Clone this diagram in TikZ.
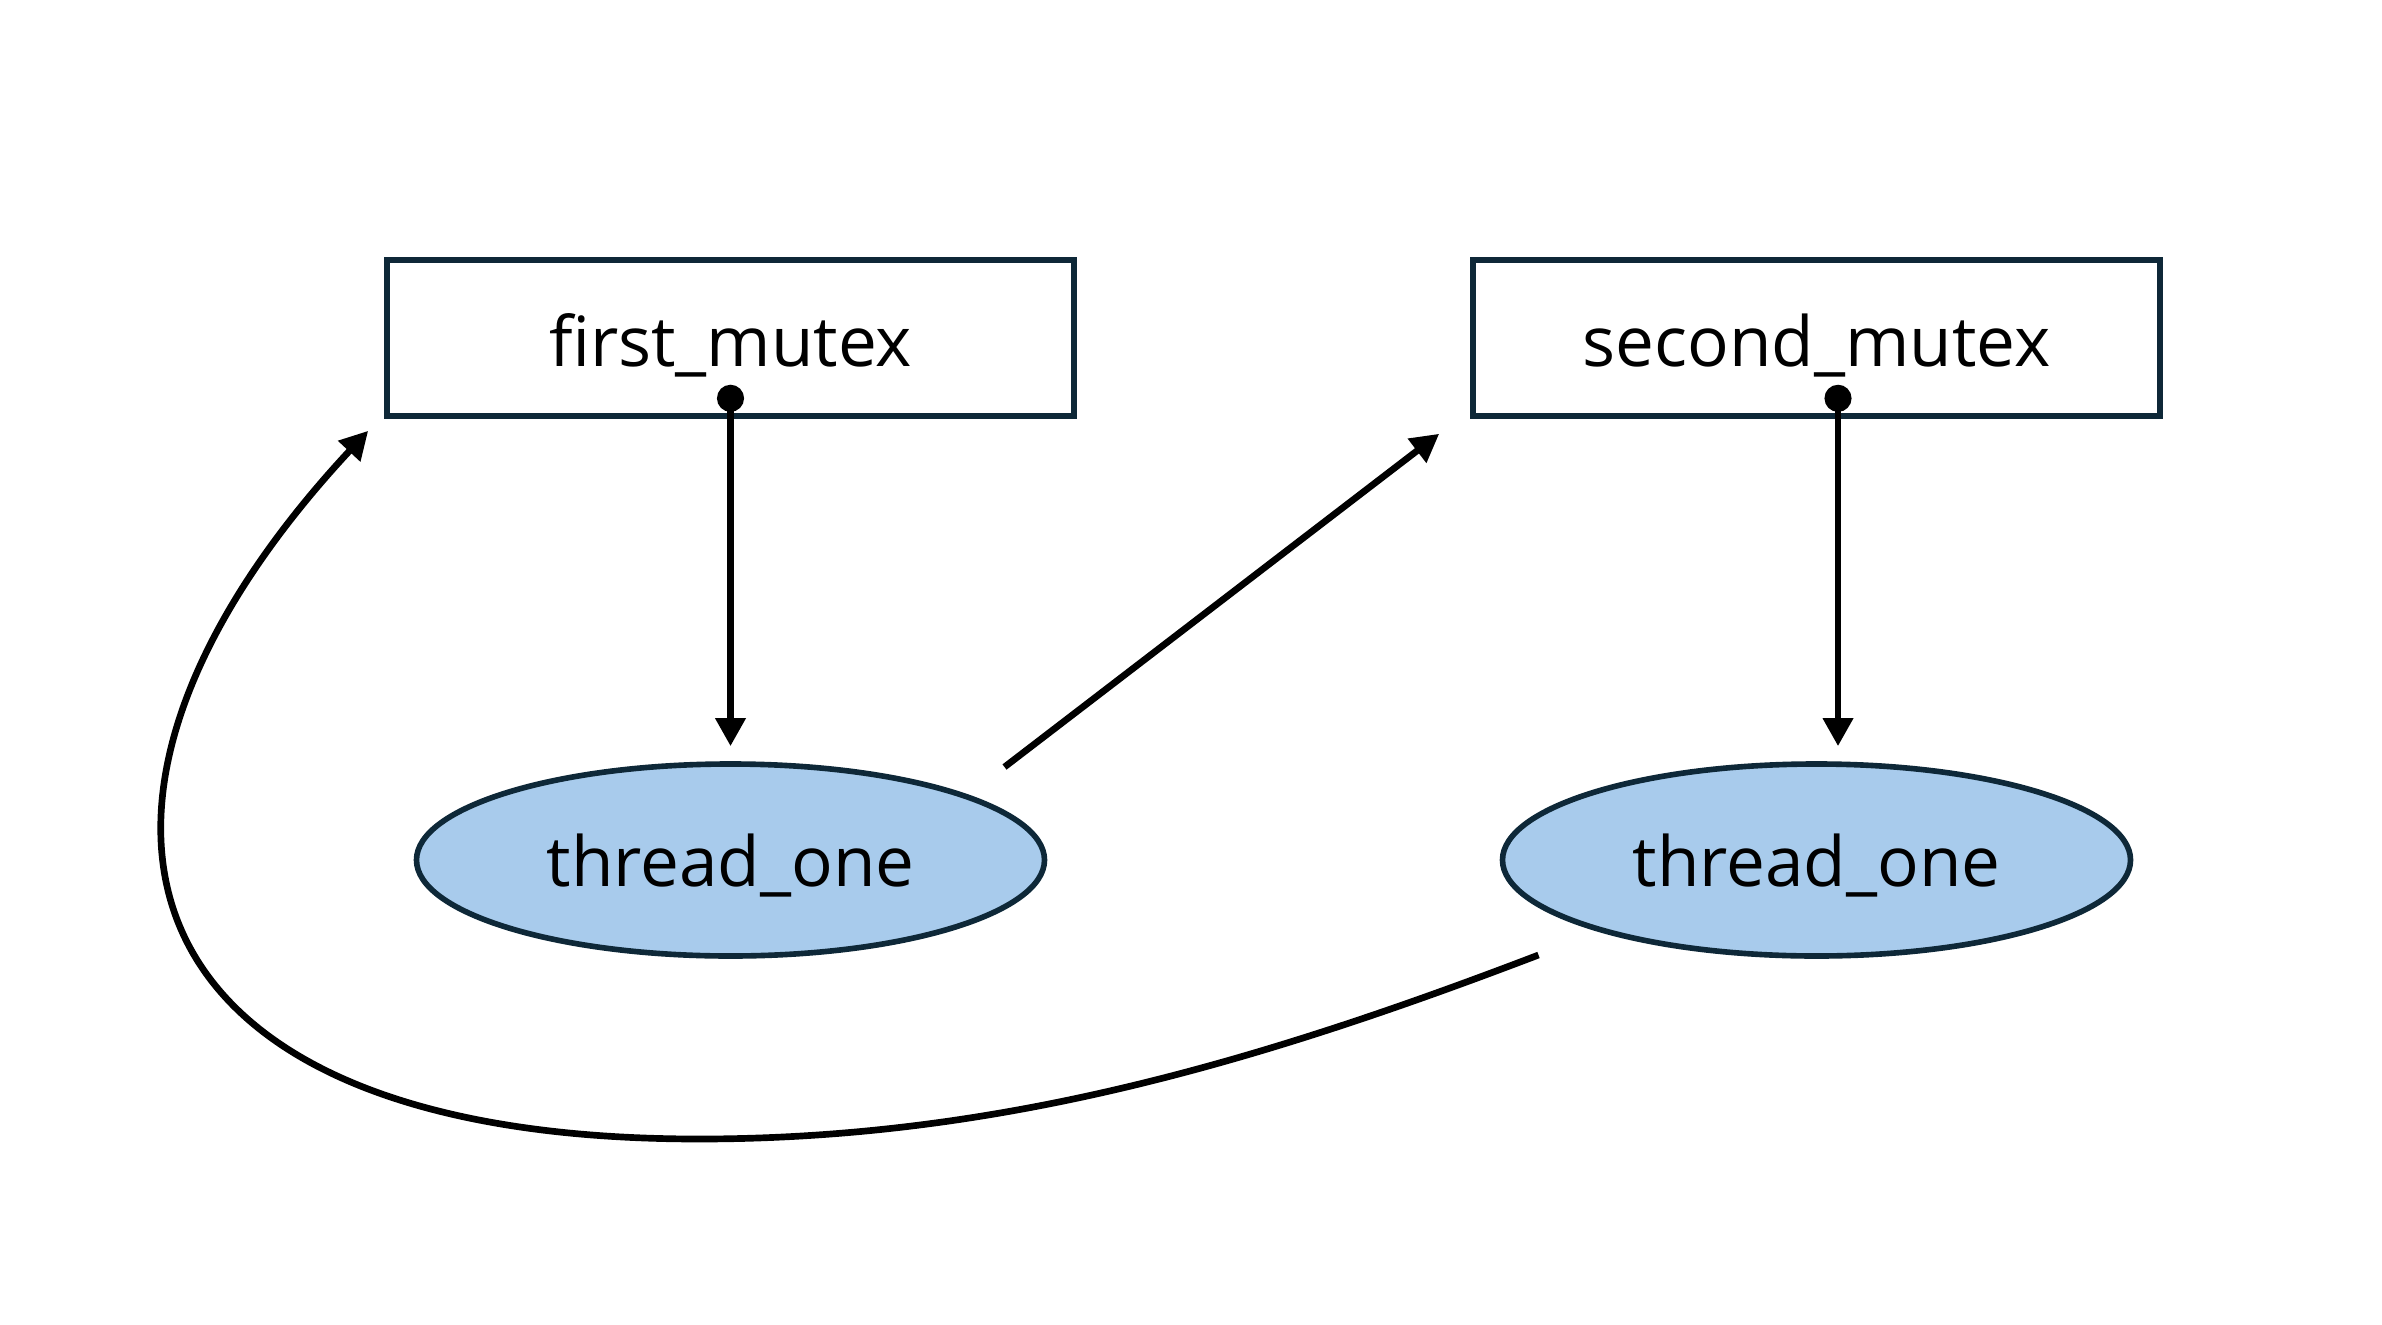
\documentclass[tikz,border=0pt]{standalone}
\usepackage{fontspec}
\setmainfont{Open Sans}
\usetikzlibrary{arrows.meta,calc,positioning,shapes.geometric}
\definecolor{edgeblue}{RGB}{14,40,56}
\definecolor{threadfill}{RGB}{168,203,236}
\tikzset{%
	mutex/.style    = {draw=edgeblue, line width=1.6pt, rectangle, minimum width=6.87cm, minimum height=1.56cm, text height=16.4pt, text depth=0pt, font=\fontsize{19.7}{24}\selectfont}, % Mutex
	thread/.style   = {draw=edgeblue, fill=threadfill, line width=1.6pt, ellipse, inner sep=0pt, minimum width=6.28cm, minimum height=1.92cm, text height=15pt, text depth=0pt, font=\fontsize{19.7}{24}\selectfont}, % Thread
	waypoint/.style = {coordinate}, % Waypoint
	link/.style     = {line width=1.9pt, -{Triangle[length=0.28cm,width=0.29cm]}}, % Wait
	holds/.style    = {line width=1.9pt, {Circle[length=0.27cm]}-{Triangle[length=0.28cm,width=0.29cm]}}, % Owner
}
\begin{document}
\begin{tikzpicture}[node distance = 10.86cm]
		\useasboundingbox (0,0) rectangle (23.82,13.24);
		\node[mutex] (m1) at (7.305,9.86) {first\_mutex};
		\node[mutex,right of=m1] (m2) {second\_mutex};
		\node[thread,below of=m1,node distance = 5.22cm] (t1) {thread\_one};
		\node[thread,below of=m2,node distance = 5.22cm] (t2) {thread\_one};
		\node[waypoint] (wp) at (6.99,1.85) {};
		\draw[holds] ($(m1.south)+(0,0.34)$) -- ($(t1.north)+(0,0.15)$);
		\draw[holds] ($(m2.south)+(0.215,0.34)$) -- ($(t2.north)+(0.215,0.15)$);
		\draw[link] ($(t1)+(2.74,0.93)$) -- ($(m2.south west)+(-0.31,-0.15)$);
		\draw[link] ($(t2)+(-2.78,-0.95)$) .. controls +(-2.8,-1.07) and +(3,0) .. (wp)
			.. controls +(-6,0) and +(-3.4,-3.65) .. ($(m1.south west)+(-0.16,-0.12)$);
		\end{tikzpicture}
\end{document}
